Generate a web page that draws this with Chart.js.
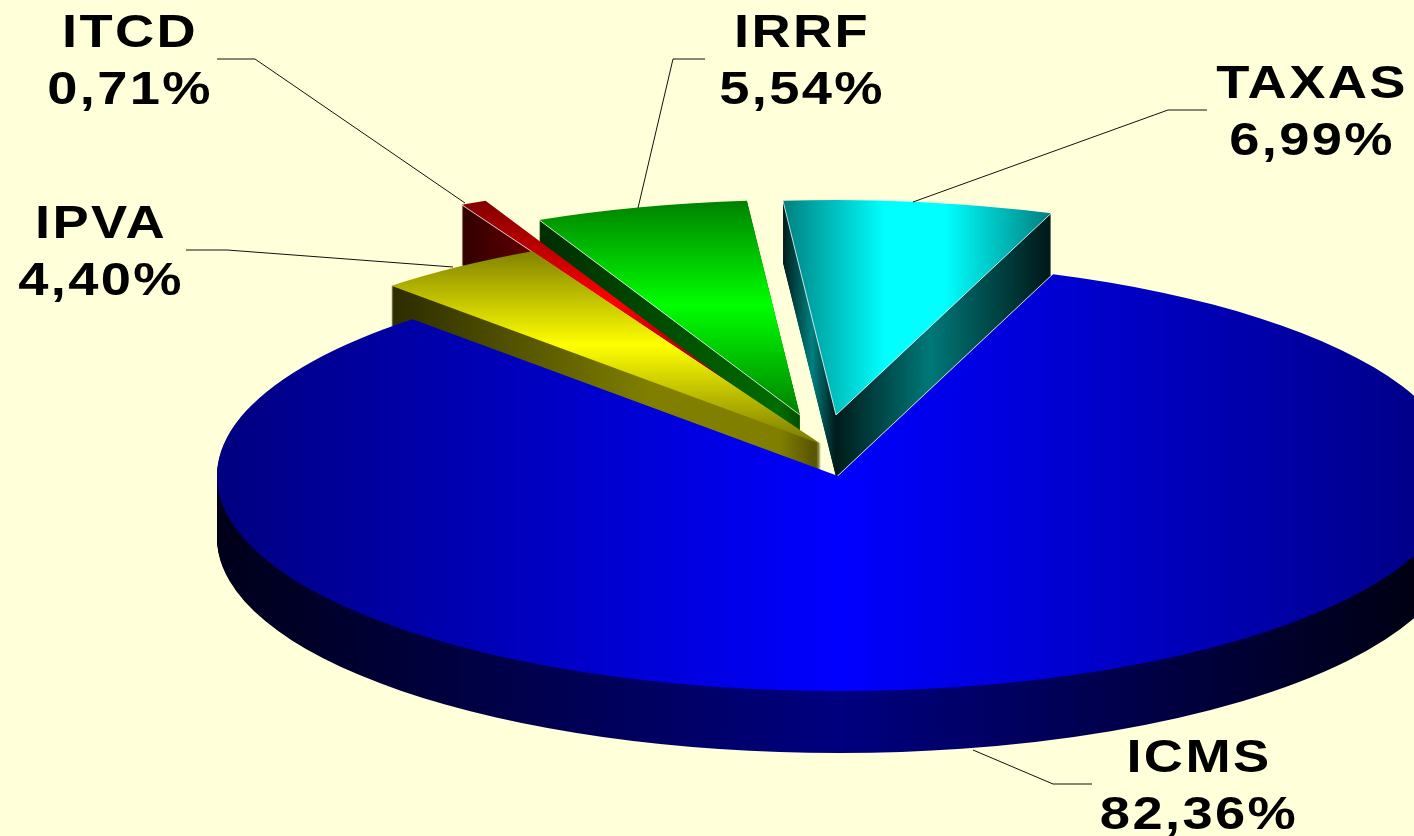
<!DOCTYPE html>
<html>
<head>
<meta charset="utf-8">
<title>Receita</title>
<script src="https://cdn.jsdelivr.net/npm/chart.js@4"></script>
<style>
  html,body{margin:0;padding:0;background:#FFFFD9;overflow:hidden;}
  #box{width:1414px;height:836px;}
</style>
</head>
<body>
<div id="box"><canvas id="pie" width="1414" height="836"></canvas></div>
<script>
// data, clockwise from the top
const categories = ['TAXAS','ICMS','IPVA','ITCD','IRRF'];
const shares = [6.99,82.36,4.40,0.71,5.54];

// how far each slice tip sits from the pie centre, screen px
const pullX = [12,14,-3,-88,-24];
const pullY = [-31,30,-2,-58,-31];
const sizeFactor = [1,1,1.01,0.96,1];
const wallDepth = [62,62,60,60,60];
const paintOrder = ['IRRF','TAXAS','ITCD','IPVA','ICMS'];

// look of the pie, all in screen px
const RADIUS = 300, START_DEG = -4.9;
const CX = 824, CY = 446, RX = 621, RY = 215;
const SX = RX/RADIUS, SY = RY/RADIUS;
const MIDX = 707, MIDY = 418;

const topFill = {
  TAXAS:{axis:'x',stops:[[783,'#008080'],[885,'#00ffff'],[945,'#00ffff'],[1050,'#008080']]},
  ICMS:{axis:'x',stops:[[219,'#000080'],[840,'#0000ff'],[1461,'#000080']]},
  IPVA:{axis:'y',stops:[[250,'#808000'],[345,'#ffff00'],[440,'#808000']]},
  ITCD:{axis:'y',stops:[[200,'#800000'],[300,'#ff0000'],[390,'#800000']]},
  IRRF:{axis:'y',stops:[[200,'#008000'],[305,'#00ff00'],[415,'#008000']]}
};
const wallFill = {
  TAXAS:{axis:'x',stops:[[783,'#001c1c'],[812,'#008080'],[835,'#001c1c'],[837,'#001c1c'],[930,'#007878'],[1050,'#001818']]},
  ICMS:{axis:'x',stops:[[219,'#00001a'],[840,'#000080'],[1461,'#00000a']]},
  IPVA:{axis:'x',stops:[[388,'#2a2a00'],[650,'#807f00'],[780,'#807f00'],[822,'#504a00']]},
  ITCD:{axis:'x',stops:[[457,'#2d0000'],[530,'#600000']]},
  IRRF:{axis:'x',stops:[[537,'#002c00'],[780,'#006c00'],[800,'#005000']]}
};
// which straight edges get the thin white highlight
const whiteEdges = {TAXAS:['startAngle','endAngle'],IRRF:['startAngle'],ITCD:['startAngle']};

const labelSpots = {
  ITCD:{x:130,y:47,line:[[217,59],[255,59],[465,203]]},
  IPVA:{x:101,y:238,line:[[186,250],[227,250],[453,267]]},
  IRRF:{x:802,y:47,line:[[705,59],[673,59],[638,208]]},
  TAXAS:{x:1312,y:98,line:[[1207,110],[1168,110],[913,202]]},
  ICMS:{x:1199,y:772,line:[[973,750],[1053,784],[1092,784]]}
};

// flatten the round pie to the ellipse and move the slice out
function squash(ctx,i){
  ctx.translate(CX+pullX[i],CY+pullY[i]);
  ctx.scale(SX,SY);
  ctx.translate(-MIDX,-MIDY);
}

// gradient in the arc's own space, so it lands on the wanted screen px
function makeGrad(ctx,spec,i){
  const toLocal = spec.axis==='x'
    ? v=>(v-CX-pullX[i])/SX+MIDX
    : v=>(v-CY-pullY[i])/SY+MIDY;
  const a = toLocal(spec.stops[0][0]), b = toLocal(spec.stops[spec.stops.length-1][0]);
  const g = spec.axis==='x' ? ctx.createLinearGradient(a,0,b,0) : ctx.createLinearGradient(0,a,0,b);
  spec.stops.forEach(s=>g.addColorStop((toLocal(s[0])-a)/(b-a),s[1]));
  return g;
}

function ghostOf(arc,fill,i){
  const ghost = Object.create(arc);
  ghost.outerRadius = RADIUS*sizeFactor[i];
  ghost.options = {
    backgroundColor:fill,borderColor:fill,borderWidth:0,borderAlign:'center',
    borderJoinStyle:'round',borderRadius:0,borderDash:[],borderDashOffset:0,
    offset:0,spacing:0,circular:true,selfJoin:false
  };
  return ghost;
}

const pie3d = {
  id:'pie3d',
  beforeDatasetsDraw(chart){
    const ctx = chart.ctx;
    const arcs = chart.getDatasetMeta(0).data;
    paintOrder.forEach(name=>{
      const i = categories.indexOf(name);
      const arc = arcs[i];
      const wall = ghostOf(arc,makeGrad(ctx,wallFill[name],i),i);
      for(let d=wallDepth[i];d>0;d--){
        ctx.save();
        ctx.translate(0,d);
        squash(ctx,i);
        wall.draw(ctx);
        ctx.restore();
      }
      ctx.save();
      squash(ctx,i);
      ghostOf(arc,makeGrad(ctx,topFill[name],i),i).draw(ctx);
      ctx.restore();
      drawEdges(ctx,arc,name,i);
    });
    return false; // slices are painted back to front above
  },
  afterDraw(chart){
    const ctx = chart.ctx;
    ctx.save();
    ctx.strokeStyle = '#111';
    ctx.lineWidth = 1;
    categories.forEach((name,i)=>{
      const spot = labelSpots[name];
      ctx.beginPath();
      spot.line.forEach((p,k)=>k?ctx.lineTo(p[0],p[1]):ctx.moveTo(p[0],p[1]));
      ctx.stroke();
      drawLabel(ctx,name,spot.x,spot.y);
      drawLabel(ctx,shares[i].toFixed(2).replace('.',',')+'%',spot.x,spot.y+57);
    });
    ctx.restore();
  }
};

function drawEdges(ctx,arc,name,i){
  const edges = whiteEdges[name];
  if(!edges) return;
  const props = arc.getProps(['startAngle','endAngle'],true);
  const r = RADIUS*sizeFactor[i];
  const ax = CX+pullX[i], ay = CY+pullY[i];
  ctx.save();
  ctx.strokeStyle = 'rgba(255,255,255,0.8)';
  ctx.lineWidth = 1;
  edges.forEach(e=>{
    ctx.beginPath();
    ctx.moveTo(ax,ay);
    ctx.lineTo(ax+Math.cos(props[e])*r*SX,ay+Math.sin(props[e])*r*SY);
    ctx.stroke();
  });
  ctx.restore();
}

// the original lettering is Arial Bold pulled wider
function drawLabel(ctx,text,x,y){
  ctx.save();
  ctx.translate(x,y);
  ctx.scale(1.18,1);
  ctx.font = 'bold 46px "Liberation Sans", Arial, sans-serif';
  ctx.letterSpacing = '2px';
  ctx.textAlign = 'center';
  ctx.textBaseline = 'alphabetic';
  ctx.fillStyle = '#000';
  ctx.fillText(text,0,0);
  ctx.restore();
}

new Chart(document.getElementById('pie'),{
  type:'pie',
  data:{labels:categories,datasets:[{data:shares,clip:false,borderWidth:0,backgroundColor:'#000'}]},
  options:{
    responsive:false,
    animation:false,
    radius:RADIUS,
    rotation:START_DEG,
    layout:{padding:0},
    plugins:{legend:{display:false},tooltip:{enabled:false}}
  },
  plugins:[pie3d]
});
</script>
</body>
</html>
